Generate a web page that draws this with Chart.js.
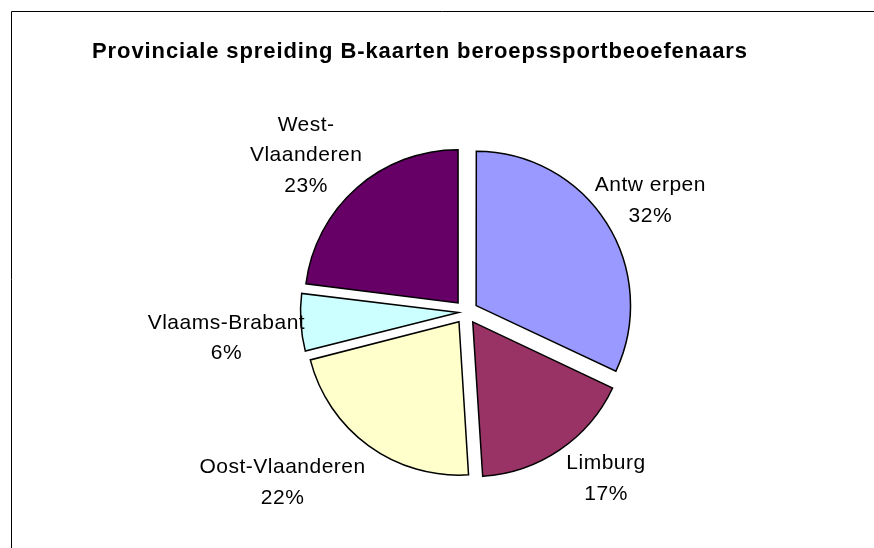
<!DOCTYPE html>
<html>
<head>
<meta charset="utf-8">
<script src="https://cdn.jsdelivr.net/npm/chart.js@4.4.0/dist/chart.umd.min.js"></script>
<style>
  html, body { margin: 0; padding: 0; background: #fff; }
  #wrap { position: relative; width: 874px; height: 548px; }
</style>
</head>
<body>
<div id="wrap"><canvas id="pieChart" width="874" height="548"></canvas></div>
<script>
// data
const provinces = ['Antw erpen', 'Limburg', 'Oost-Vlaanderen', 'Vlaams-Brabant', 'West-Vlaanderen'];
const shares = [32, 17, 22, 6, 23];
const sliceColors = ['#9999FF', '#993366', '#FFFFCC', '#CCFFFF', '#660066'];
// how the names are broken over lines in the labels
const labelLines = [['Antw erpen'], ['Limburg'], ['Oost-Vlaanderen'], ['Vlaams-Brabant'], ['West-', 'Vlaanderen']];
const titleText = 'Provinciale spreiding B-kaarten beroepssportbeoefenaars';

// small nudges for the outside labels (px), Excel places them a bit off the mid angle
const labelShift = [[7, 1], [22, -7], [-60, 1], [-30, 13], [-21, 1]];
// chart.js grows thin slices when exploded, so the small one gets less offset
const explode = [48, 48, 48, 30, 48];

const frameAndText = {
    id: 'frameAndText',
    afterDraw(chart) {
        const ctx = chart.ctx;
        ctx.save();
        // chart border (only left and top are visible)
        ctx.strokeStyle = '#000';
        ctx.lineWidth = 1;
        ctx.beginPath();
        ctx.moveTo(11.5, 548);
        ctx.lineTo(11.5, 11.5);
        ctx.lineTo(874, 11.5);
        ctx.stroke();

        // title
        ctx.fillStyle = '#000';
        ctx.textAlign = 'center';
        ctx.textBaseline = 'alphabetic';
        ctx.font = 'bold 22px "Liberation Sans", Arial, sans-serif';
        ctx.letterSpacing = '0.9px';
        ctx.fillText(titleText, 420, 58);

        // data labels
        ctx.font = '21px "Liberation Sans", Arial, sans-serif';
        ctx.letterSpacing = '0.5px';
        ctx.textBaseline = 'middle';
        const total = shares.reduce((a, b) => a + b, 0);
        const meta = chart.getDatasetMeta(0);
        meta.data.forEach((arc, i) => {
            const mid = (arc.startAngle + arc.endAngle) / 2;
            const r = 210;
            const cx = arc.x + Math.cos(mid) * r + labelShift[i][0];
            const cy = arc.y + Math.sin(mid) * r + labelShift[i][1];
            const lines = labelLines[i].concat([Math.round(shares[i] / total * 100) + '%']);
            const lh = 30.5;
            const y0 = cy - (lines.length - 1) * lh / 2;
            lines.forEach((t, k) => ctx.fillText(t, cx, y0 + k * lh));
        });
        ctx.restore();
    }
};

new Chart(document.getElementById('pieChart'), {
    type: 'pie',
    data: {
        labels: provinces,
        datasets: [{
            data: shares,
            backgroundColor: sliceColors,
            borderColor: '#000',
            borderWidth: 1.5,
            borderJoinStyle: 'miter',
            offset: explode
        }]
    },
    options: {
        responsive: false,
        animation: false,
        layout: { padding: { left: 266, right: 208, top: 134, bottom: 58 } },
        plugins: {
            legend: { display: false },
            tooltip: { enabled: false },
            title: { display: false }
        }
    },
    plugins: [frameAndText]
});
</script>
</body>
</html>
